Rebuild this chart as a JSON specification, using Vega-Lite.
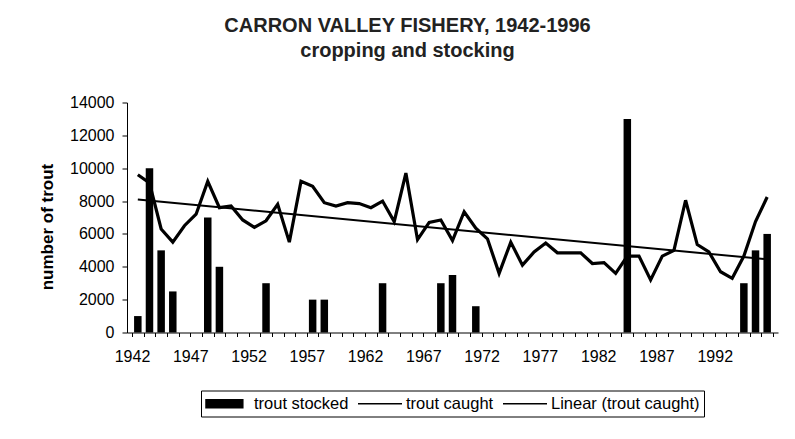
{
  "$schema": "https://vega.github.io/schema/vega-lite/v6.json",
  "width": 651,
  "height": 230,
  "autosize": {"type": "none"},
  "padding": {"left": 127, "top": 102.5, "right": 17, "bottom": 106.5},
  "background": "white",
  "config": {
    "font": "Liberation Sans",
    "view": {"stroke": null},
    "axis": {
      "labelFontSize": 16,
      "labelFont": "Liberation Sans",
      "labelColor": "black",
      "labelOverlap": false,
      "labelFlush": false,
      "labelBound": false,
      "grid": false,
      "tickColor": "black",
      "domainColor": "black",
      "titleColor": "black"
    }
  },
  "title": {
    "text": ["CARRON VALLEY FISHERY, 1942-1996", "cropping and stocking"],
    "fontSize": 20,
    "fontWeight": "bold",
    "font": "Liberation Sans",
    "color": "#222222",
    "anchor": "middle",
    "frame": "group",
    "dx": -45,
    "dy": 5,
    "lineHeight": 25,
    "offset": 39
  },
  "data": {
    "values": [
      {"year": 1942, "caught": 9600, "stocked": 1000},
      {"year": 1943, "caught": 9100, "stocked": 10000},
      {"year": 1944, "caught": 6300, "stocked": 5000},
      {"year": 1945, "caught": 5500, "stocked": 2500},
      {"year": 1946, "caught": 6500, "stocked": null},
      {"year": 1947, "caught": 7200, "stocked": null},
      {"year": 1948, "caught": 9200, "stocked": 7000},
      {"year": 1949, "caught": 7600, "stocked": 4000},
      {"year": 1950, "caught": 7700, "stocked": null},
      {"year": 1951, "caught": 6850, "stocked": null},
      {"year": 1952, "caught": 6400, "stocked": null},
      {"year": 1953, "caught": 6800, "stocked": 3000},
      {"year": 1954, "caught": 7800, "stocked": null},
      {"year": 1955, "caught": 5500, "stocked": null},
      {"year": 1956, "caught": 9200, "stocked": null},
      {"year": 1957, "caught": 8900, "stocked": 2000},
      {"year": 1958, "caught": 7900, "stocked": 2000},
      {"year": 1959, "caught": 7700, "stocked": null},
      {"year": 1960, "caught": 7900, "stocked": null},
      {"year": 1961, "caught": 7850, "stocked": null},
      {"year": 1962, "caught": 7600, "stocked": null},
      {"year": 1963, "caught": 8000, "stocked": 3000},
      {"year": 1964, "caught": 6750, "stocked": null},
      {"year": 1965, "caught": 9700, "stocked": null},
      {"year": 1966, "caught": 5650, "stocked": null},
      {"year": 1967, "caught": 6700, "stocked": null},
      {"year": 1968, "caught": 6850, "stocked": 3000},
      {"year": 1969, "caught": 5600, "stocked": 3500},
      {"year": 1970, "caught": 7350, "stocked": null},
      {"year": 1971, "caught": 6350, "stocked": 1600},
      {"year": 1972, "caught": 5700, "stocked": null},
      {"year": 1973, "caught": 3600, "stocked": null},
      {"year": 1974, "caught": 5500, "stocked": null},
      {"year": 1975, "caught": 4100, "stocked": null},
      {"year": 1976, "caught": 4900, "stocked": null},
      {"year": 1977, "caught": 5450, "stocked": null},
      {"year": 1978, "caught": 4850, "stocked": null},
      {"year": 1979, "caught": 4850, "stocked": null},
      {"year": 1980, "caught": 4850, "stocked": null},
      {"year": 1981, "caught": 4200, "stocked": null},
      {"year": 1982, "caught": 4250, "stocked": null},
      {"year": 1983, "caught": 3600, "stocked": null},
      {"year": 1984, "caught": 4650, "stocked": 13000},
      {"year": 1985, "caught": 4650, "stocked": null},
      {"year": 1986, "caught": 3200, "stocked": null},
      {"year": 1987, "caught": 4650, "stocked": null},
      {"year": 1988, "caught": 5000, "stocked": null},
      {"year": 1989, "caught": 8050, "stocked": null},
      {"year": 1990, "caught": 5350, "stocked": null},
      {"year": 1991, "caught": 4900, "stocked": null},
      {"year": 1992, "caught": 3700, "stocked": null},
      {"year": 1993, "caught": 3300, "stocked": null},
      {"year": 1994, "caught": 4650, "stocked": 3000},
      {"year": 1995, "caught": 6750, "stocked": 5000},
      {"year": 1996, "caught": 8250, "stocked": 6000}
    ]
  },
  "encoding": {
    "x": {
      "field": "year",
      "type": "quantitative",
      "scale": {"domain": [1941.5, 1996.5], "nice": false, "zero": false},
      "axis": {
        "title": null,
        "values": [1941.5,1942.5,1943.5,1944.5,1945.5,1946.5,1947.5,1948.5,1949.5,1950.5,1951.5,1952.5,1953.5,1954.5,1955.5,1956.5,1957.5,1958.5,1959.5,1960.5,1961.5,1962.5,1963.5,1964.5,1965.5,1966.5,1967.5,1968.5,1969.5,1970.5,1971.5,1972.5,1973.5,1974.5,1975.5,1976.5,1977.5,1978.5,1979.5,1980.5,1981.5,1982.5,1983.5,1984.5,1985.5,1986.5,1987.5,1988.5,1989.5,1990.5,1991.5,1992.5,1993.5,1994.5,1995.5,1996.5],
        "labelExpr": "(datum.value < 1996 && (datum.value + 0.5 - 1942) % 5 == 0) ? format(datum.value + 0.5, 'd') : ''",
        "labelDx": 5.92,
        "tickSize": 4,
        "labelPadding": 12
      }
    },
    "y": {
      "field": "stocked",
      "type": "quantitative",
      "scale": {"domain": [0, 14000], "nice": false},
      "axis": {
        "title": "number of trout",
        "titleFontSize": 17,
        "titleFontWeight": "bold",
        "titlePadding": 13,
        "titleY": 124,
        "values": [0, 2000, 4000, 6000, 8000, 10000, 12000, 14000],
        "format": "d",
        "labelPadding": 8,
        "tickSize": 5
      }
    }
  },
  "layer": [
    {
      "transform": [{"filter": "datum.stocked != null"}],
      "mark": {"type": "bar", "width": 7.5, "color": "black"},
      "encoding": {
        "color": {
          "datum": "trout stocked",
          "scale": {
            "domain": ["trout stocked", "trout caught", "Linear (trout caught)"],
            "range": ["black", "black", "black"]
          },
          "legend": {
            "orient": "none",
            "legendX": 74,
            "legendY": 288,
            "direction": "horizontal",
            "title": null,
            "strokeColor": "black",
            "fillColor": "white",
            "padding": 4,
            "symbolSize": 256,
            "labelOffset": 31,
            "columnPadding": 6,
            "labelFontSize": 16.5,
            "labelColor": "black",
            "labelFont": "Liberation Sans",
            "encode": {
              "symbols": {
                "update": {
                  "shape": {"signal": "datum.value === 'trout stocked' ? 'M-1,-0.5H3.6V0.5H-1Z' : 'M-1,0H4.5'"},
                  "fill": {"signal": "datum.value === 'trout stocked' ? 'black' : 'transparent'"},
                  "stroke": {"value": "black"},
                  "strokeWidth": {"value": 1.5},
                  "opacity": {"value": 1}
                }
              }
            }
          }
        }
      }
    },
    {
      "mark": {"type": "line", "strokeWidth": 3.2, "color": "black", "strokeJoin": "miter"},
      "encoding": {
        "y": {"field": "caught", "type": "quantitative"},
        "color": {"datum": "trout caught"}
      }
    },
    {
      "transform": [
        {"regression": "caught", "on": "year", "extent": [1942, 1996]}
      ],
      "mark": {"type": "line", "strokeWidth": 2, "color": "black"},
      "encoding": {
        "y": {"field": "caught", "type": "quantitative"},
        "color": {"datum": "Linear (trout caught)"}
      }
    }
  ]
}
